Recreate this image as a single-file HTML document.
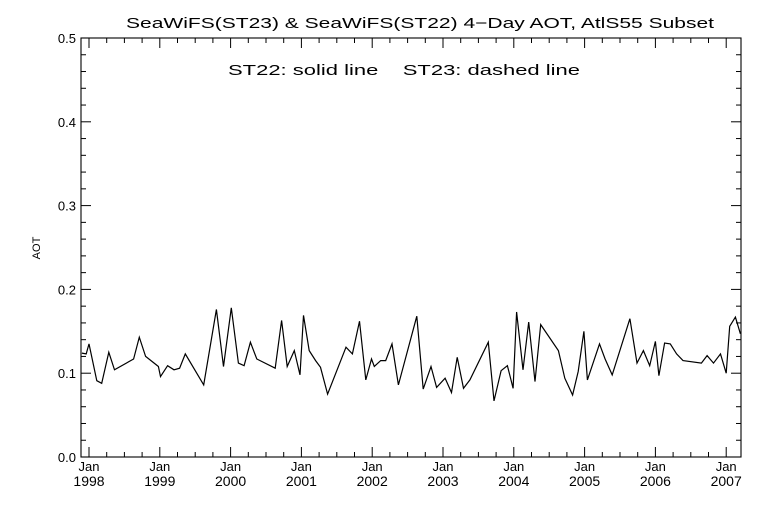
<!DOCTYPE html>
<html><head><meta charset="utf-8"><style>
body{margin:0;background:#fff}
svg text{font-family:"Liberation Sans",sans-serif;fill:#000}
</style></head><body>
<svg id="chart" width="768" height="512" viewBox="0 0 768 512" xmlns="http://www.w3.org/2000/svg">
<rect x="0" y="0" width="768" height="512" fill="#fff"/>
<text x="420" y="28" font-size="15" text-anchor="middle" textLength="588" lengthAdjust="spacingAndGlyphs">SeaWiFS(ST23) &amp; SeaWiFS(ST22) 4−Day AOT, AtlS55 Subset</text>
<text x="404" y="75" font-size="15" text-anchor="middle" textLength="352" lengthAdjust="spacingAndGlyphs">ST22: solid line&#160;&#160;&#160;&#160;ST23: dashed line</text>
<text x="40" y="248" font-size="11" text-anchor="middle" transform="rotate(-90 40 248)">AOT</text>
<g id="axes"></g>
<g id="series"></g>
</svg>
<script>
const years=[1998,1999,2000,2001,2002,2003,2004,2005,2006,2007];
const yTicks=[0,0.1,0.2,0.3,0.4,0.5];
const yTickLabels=["0.0","0.1","0.2","0.3","0.4","0.5"];
const st22Dates=[1997.90,1997.96,1998.00,1998.11,1998.18,1998.28,1998.36,1998.63,1998.71,1998.80,1998.98,1999.01,1999.11,1999.20,1999.28,1999.36,1999.62,1999.80,1999.90,2000.01,2000.11,2000.19,2000.28,2000.37,2000.63,2000.72,2000.80,2000.90,2000.98,2001.03,2001.11,2001.20,2001.27,2001.37,2001.63,2001.72,2001.82,2001.91,2001.99,2002.03,2002.12,2002.19,2002.28,2002.37,2002.63,2002.72,2002.83,2002.91,2003.03,2003.12,2003.20,2003.29,2003.38,2003.64,2003.72,2003.82,2003.91,2003.99,2004.04,2004.13,2004.21,2004.30,2004.38,2004.63,2004.72,2004.83,2004.91,2004.99,2005.04,2005.21,2005.29,2005.39,2005.64,2005.74,2005.83,2005.92,2006.00,2006.05,2006.13,2006.21,2006.30,2006.39,2006.65,2006.73,2006.82,2006.92,2007.00,2007.05,2007.13,2007.20];
const st22Values=[0.124,0.123,0.135,0.091,0.088,0.125,0.104,0.117,0.143,0.120,0.108,0.096,0.109,0.104,0.106,0.123,0.086,0.176,0.108,0.178,0.112,0.109,0.137,0.117,0.106,0.163,0.108,0.127,0.098,0.169,0.127,0.115,0.107,0.075,0.131,0.123,0.162,0.092,0.117,0.108,0.115,0.115,0.135,0.086,0.168,0.081,0.108,0.083,0.094,0.077,0.119,0.082,0.092,0.137,0.067,0.103,0.109,0.082,0.173,0.104,0.161,0.090,0.158,0.127,0.094,0.074,0.102,0.150,0.092,0.135,0.117,0.098,0.165,0.112,0.127,0.109,0.138,0.097,0.136,0.135,0.123,0.115,0.112,0.121,0.112,0.123,0.100,0.156,0.167,0.147];
const L=81,R=741,T=38,B=457,X0=1997.887,X1=2007.209,Y0=0,Y1=0.5;
const sx=v=>L+(v-X0)/(X1-X0)*(R-L);
const sy=v=>B-(v-Y0)/(Y1-Y0)*(B-T);
const NS="http://www.w3.org/2000/svg";
const ax=document.getElementById('axes');
function mk(tag,attrs,parent){const e=document.createElementNS(NS,tag);for(const k in attrs)e.setAttribute(k,attrs[k]);parent.appendChild(e);return e;}
const frame=mk('rect',{x:L,y:T,width:R-L,height:B-T,fill:'none',stroke:'#000','stroke-width':1.1},ax);


for(let i=0;i<=25;i++){const v=i*0.02;const y=sy(v);const major=i%5===0;const len=major?10:5;
 mk('line',{x1:L,x2:L+len,y1:y,y2:y,stroke:'#000'},ax);mk('line',{x1:R,x2:R-len,y1:y,y2:y,stroke:'#000'},ax);}
yTicks.forEach((v,i)=>{const t=mk('text',{x:L-5,y:sy(v)+5,'font-size':13,'text-anchor':'end'},ax);t.textContent=yTickLabels[i];
 
 });
for(let q=Math.ceil(X0*4);q<=X1*4;q++){const v=q/4;const x=sx(v);const major=q%4===0;const len=major?10:5;
 mk('line',{x1:x,x2:x,y1:B,y2:B-len,stroke:'#000'},ax);mk('line',{x1:x,x2:x,y1:T,y2:T+len,stroke:'#000'},ax);}
years.forEach(y=>{const x=sx(y);
 const a=mk('text',{x:x,y:471,'font-size':13,'text-anchor':'middle'},ax);a.textContent='Jan';
 
 
 const b=mk('text',{x:x,y:486,'font-size':14,'text-anchor':'middle'},ax);b.textContent=String(y);
 
 });
const sg=document.getElementById('series');
const pts=st22Dates.map((d,i)=>sx(d).toFixed(1)+','+sy(st22Values[i]).toFixed(1)).join(' ');
const pl=mk('polyline',{points:pts,fill:'none',stroke:'#000','stroke-width':1.2},sg);


</script>
</body></html>
